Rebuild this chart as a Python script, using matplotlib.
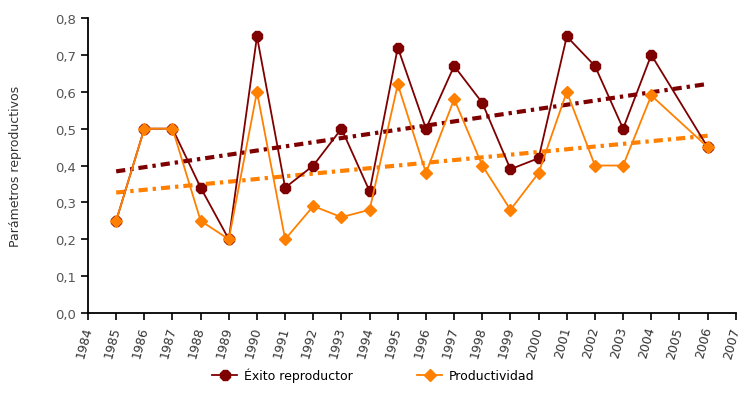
import numpy as np
import matplotlib
matplotlib.use("Agg")
from matplotlib import pyplot as plt

# datos (2005 sin dato)
years = [1985, 1986, 1987, 1988, 1989, 1990, 1991, 1992, 1993, 1994, 1995,
         1996, 1997, 1998, 1999, 2000, 2001, 2002, 2003, 2004, 2006]
exito = [0.25, 0.50, 0.50, 0.34, 0.20, 0.75, 0.34, 0.40, 0.50, 0.33, 0.72,
         0.50, 0.67, 0.57, 0.39, 0.42, 0.75, 0.67, 0.50, 0.70, 0.45]
productividad = [0.25, 0.50, 0.50, 0.25, 0.20, 0.60, 0.20, 0.29, 0.26, 0.28, 0.62,
                 0.38, 0.58, 0.40, 0.28, 0.38, 0.60, 0.40, 0.40, 0.59, 0.45]
tick_years = list(range(1984, 2008))
y_ticks = [0.0, 0.1, 0.2, 0.3, 0.4, 0.5, 0.6, 0.7, 0.8]

c_exito = '#7f0000'
c_prod = '#ff8000'

fig = plt.figure(figsize=(7.42, 4.14), dpi=100)
ax = fig.add_axes([0.1186, 0.2415, 0.873, 0.7125])

x = np.array(years)
# lineas de tendencia
for serie, col in [(exito, c_exito), (productividad, c_prod)]:
    p = np.polyfit(x, serie, 1)
    ax.plot(x, np.polyval(p, x), color=col, lw=3, ls=(0, (2.2, 1.2, 0.8, 1.2)), zorder=2)

ax.plot(years, exito, color=c_exito, lw=1.3, marker='8', ms=8.5,
        label='Éxito reproductor', zorder=3)
ax.plot(years, productividad, color=c_prod, lw=1.3, marker='D', ms=6.5,
        label='Productividad', zorder=4)

ax.set_xlim(1984, 2007)
ax.set_ylim(0, 0.8)
ax.set_xticks(tick_years)
ax.set_xticklabels([str(t) for t in tick_years], rotation=75, ha='right',
                   va='center', rotation_mode='anchor', fontsize=9, color='#333333')
ax.set_yticks(y_ticks)
ax.set_yticklabels([('%.1f' % v).replace('.', ',') for v in y_ticks],
                   fontsize=9.5, color='#555555')
ax.tick_params(axis='both', direction='out', length=5, width=1.2)
ax.tick_params(axis='x', pad=5)
for s in ['top', 'right']:
    ax.spines[s].set_visible(False)
for s in ['left', 'bottom']:
    ax.spines[s].set_linewidth(1.3)

ax.set_ylabel('Parámetros reproductivos', fontsize=9, color='#333333', labelpad=24)

fig.legend(loc='center', bbox_to_anchor=(0.503, 0.092), ncol=2, frameon=False,
           fontsize=9, handlelength=2.0, handletextpad=0.5, columnspacing=5.2)

fig.savefig('out.png', dpi=100)
